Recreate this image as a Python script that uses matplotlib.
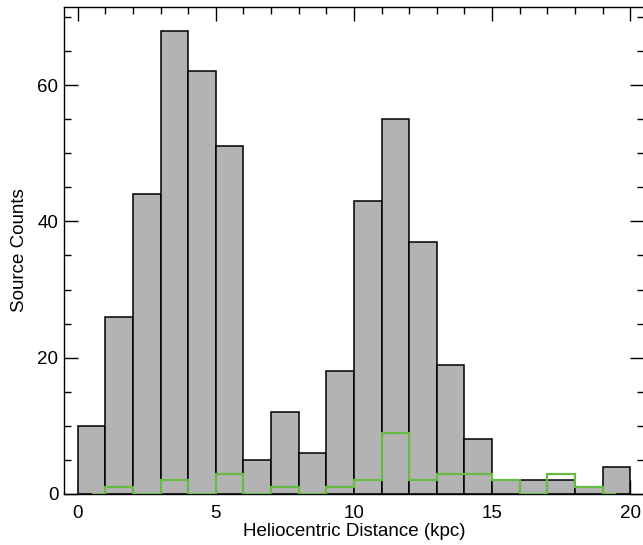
import numpy as np
import matplotlib
matplotlib.use("Agg")
import matplotlib.pyplot as plt
from matplotlib.ticker import MultipleLocator

plt.rcParams['font.family'] = ['Liberation Sans', 'DejaVu Sans']

# histogram of all sources, bins of 1 kpc from 0 to 20
bin_edges = np.arange(0, 21, 1)
all_counts = [10, 26, 44, 68, 62, 51, 5, 12, 6, 18,
              43, 55, 37, 19, 8, 2, 2, 2, 1, 4]
# subset drawn as a green step line (IDL psym=10 style)
sub_counts = [0, 1, 0, 2, 0, 3, 0, 1, 0, 1,
              2, 9, 2, 3, 3, 2, 0, 3, 1, 0]

fig = plt.figure(figsize=(6.43, 5.45), dpi=100)
ax = fig.add_axes([0.0995, 0.0936, 0.902, 0.894])

ax.bar(bin_edges[:-1], all_counts, width=1.0, align='edge',
       color='#b3b3b3', edgecolor='black', linewidth=1.1, zorder=2)

centers = 0.5 * (bin_edges[:-1] + bin_edges[1:])
step_edges = np.concatenate([[centers[0]], bin_edges[1:-1], [centers[-1]]])
ax.stairs(sub_counts, step_edges, color='#66bb44', linewidth=1.6, zorder=3)

ax.set_xlim(-0.5, 20.5)
ax.set_ylim(0, 71.5)
ax.xaxis.set_major_locator(MultipleLocator(5))
ax.xaxis.set_minor_locator(MultipleLocator(1))
ax.yaxis.set_major_locator(MultipleLocator(20))
ax.yaxis.set_minor_locator(MultipleLocator(5))
ax.tick_params(which='both', direction='in', top=True, right=True,
               labelsize=13.5, width=1.0)
ax.tick_params(axis='x', pad=8)
ax.tick_params(axis='y', pad=4)
ax.tick_params(which='major', length=10)
ax.tick_params(which='minor', length=5)

for s in ax.spines.values():
    s.set_linewidth(1.0)

ax.set_xlabel('Heliocentric Distance (kpc)', fontsize=13.5, labelpad=1)
ax.set_ylabel('Source Counts', fontsize=13.5, labelpad=7)

fig.savefig('out.png', dpi=100)
